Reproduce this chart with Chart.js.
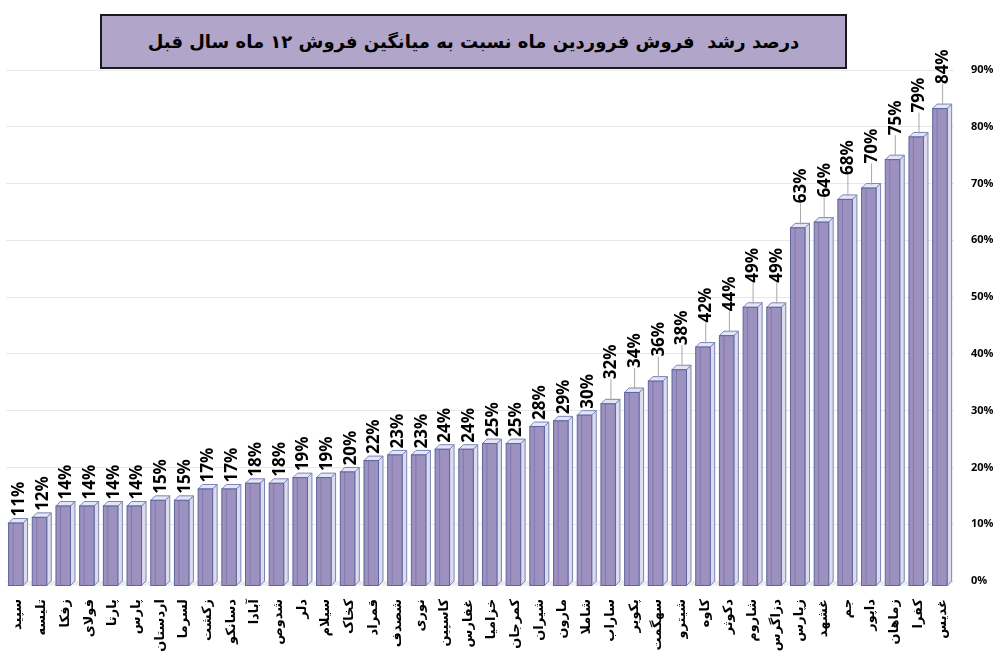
<!DOCTYPE html>
<html><head><meta charset="utf-8">
<script src="https://cdn.jsdelivr.net/npm/chart.js@4.4.1/dist/chart.umd.min.js"></script>
<style>
html,body{margin:0;padding:0;background:#fff;}
#wrap{position:relative;width:1000px;height:654px;}
#title{position:absolute;left:100px;top:14px;width:747px;height:55px;box-sizing:border-box;background:#b2a5ca;border:2px solid #1a1a1a;
 font-family:"DejaVu Sans",sans-serif;font-weight:bold;font-size:18px;color:#000;display:flex;align-items:center;justify-content:center;direction:rtl;white-space:pre;}
canvas{position:absolute;left:0;top:0;}
</style></head>
<body>
<div id="wrap">
<canvas id="c" width="1000" height="654"></canvas>
<div id="title">درصد رشد  فروش فروردین ماه نسبت به میانگین فروش ۱۲ ماه سال قبل</div>
</div>
<script>
const categories = ["سپید","تلیسه","زفکا","فولای","پارتا","پارس","اردستان","لسرما","زکشت","دسانکو","آبادا","شدوص","دلر","سیلام","کخاک","قمراد","شصدف","نوری","کاسپین","غفارس","خزامیا","کمرجان","شیران","مارون","شاملا","ساراب","پکویر","سهگمت","شیترو","کاوه","دکوثر","شاروم","دزاگرس","زپارس","غشهد","جم","داپور","زماهان","کفرا","غدیس"];
const growthValues = [11,12,14,14,14,14,15,15,17,17,18,18,19,19,20,22,23,23,24,24,25,25,28,29,30,32,34,36,38,42,44,49,49,63,64,68,70,75,79,84];
const yTicks = [0,10,20,30,40,50,60,70,80,90];

const W=14.5, DX=4.5, DY=4.5;
const bar3d = {
  id:'bar3d',
  beforeDatasetsDraw(chart){
    const ctx=chart.ctx, a=chart.chartArea, base=chart.scales.y.getPixelForValue(0);
    ctx.save();
    ctx.fillStyle='#ededed';
    ctx.beginPath();
    ctx.moveTo(a.left,base+DY); ctx.lineTo(a.left+DX,base); ctx.lineTo(a.right,base); ctx.lineTo(a.right-DX,base+DY);
    ctx.closePath(); ctx.fill();
    ctx.restore();
  },
  afterDatasetsDraw(chart){
    const ctx=chart.ctx, meta=chart.getDatasetMeta(0), base=chart.scales.y.getPixelForValue(0);
    ctx.save();
    ctx.lineWidth=1;
    meta.data.forEach((el,i)=>{
      const cx=el.x, yv=el.y;
      const fl=cx-(W+DX)/2, fr=fl+W, ft=yv+DY, fb=base+DY;
      ctx.beginPath();
      ctx.moveTo(fr,ft); ctx.lineTo(fr+DX,ft-DY); ctx.lineTo(fr+DX,fb-DY); ctx.lineTo(fr,fb); ctx.closePath();
      ctx.fillStyle='#dcdcef'; ctx.fill(); ctx.strokeStyle='#7d84b6'; ctx.stroke();
      ctx.beginPath();
      ctx.moveTo(fl,ft); ctx.lineTo(fl+DX,ft-DY); ctx.lineTo(fr+DX,ft-DY); ctx.lineTo(fr,ft); ctx.closePath();
      ctx.fillStyle='#e3e6f7'; ctx.fill(); ctx.strokeStyle='#7d84b6'; ctx.stroke();
      ctx.fillStyle='#9d91bf';
      ctx.fillRect(fl,ft,W,fb-ft);
      ctx.strokeStyle='#8377b0';
      ctx.beginPath(); ctx.moveTo(fl+4.5,ft); ctx.lineTo(fl+4.5,fb); ctx.stroke();
      ctx.strokeStyle='#5d66a0';
      ctx.strokeRect(fl,ft,W,fb-ft);
    });
    ctx.font='bold 17px "Open Sans"';
    ctx.fillStyle='#000';
    ctx.textBaseline='middle';
    ctx.textAlign='left';
    meta.data.forEach((el,i)=>{
      const v=growthValues[i];
      const cx=el.x, topY=el.y;
      const gap = v>=31 ? 20 : 2;
      const ly = topY - gap;
      if(gap>5){
        ctx.strokeStyle='#a8a8a8'; ctx.lineWidth=1;
        ctx.beginPath(); ctx.moveTo(cx+0.5,topY+1); ctx.lineTo(cx+0.5,ly); ctx.stroke();
      }
      ctx.save();
      ctx.translate(cx+1,ly);
      ctx.rotate(-Math.PI/2);
      ctx.fillText(Math.round(v)+'%',0,0);
      ctx.restore();
    });
    ctx.restore();
  }
};

new Chart(document.getElementById('c'),{
  type:'bar',
  data:{labels:categories,datasets:[{data:growthValues,backgroundColor:'rgba(0,0,0,0)',borderWidth:0,barPercentage:0.8,categoryPercentage:0.8}]},
  options:{
    responsive:false,animation:false,devicePixelRatio:1,
    layout:{padding:{left:6,top:70,right:0,bottom:0}},
    plugins:{legend:{display:false},tooltip:{enabled:false},title:{display:false}},
    scales:{
      x:{
        grid:{display:false,drawTicks:false},border:{display:false},
        ticks:{autoSkip:false,maxRotation:90,minRotation:90,padding:18,color:'#000',font:{family:'"DejaVu Sans"',weight:'bold',size:13}},
        afterFit(s){s.height=73;}
      },
      y:{
        position:'right',min:0,max:90,
        afterBuildTicks(s){s.ticks=yTicks.map(v=>({value:v}));},
        grid:{color:'#e8e8e8',drawTicks:false},border:{display:false},
        ticks:{padding:17,color:'#000',callback:v=>v+'%',font:{family:'"Open Sans"',weight:'bold',size:11}},
        afterFit(s){s.width=46;}
      }
    }
  },
  plugins:[bar3d]
});
</script>
</body></html>
